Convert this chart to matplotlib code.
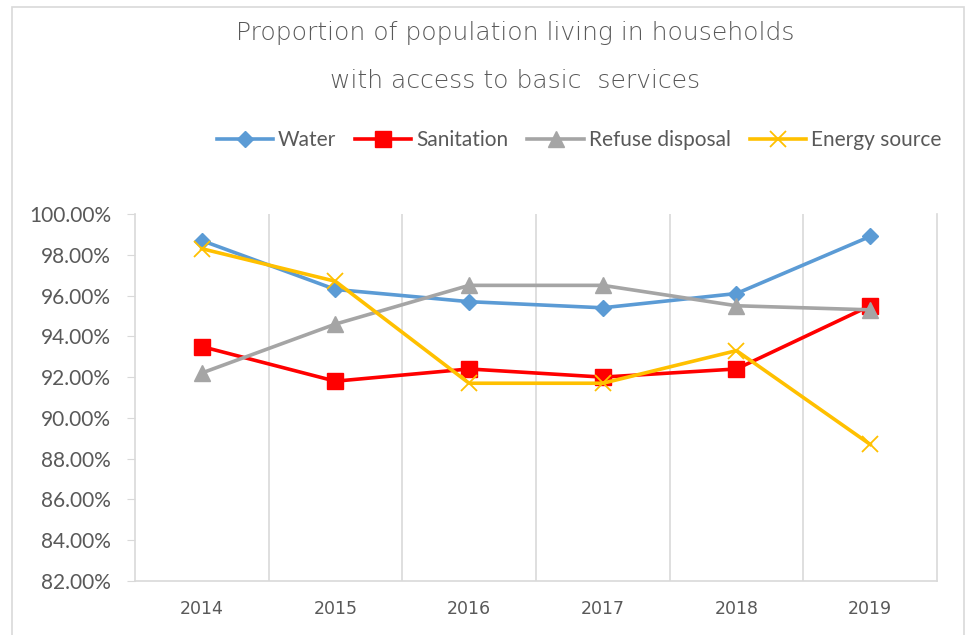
import matplotlib.pyplot as plt
from matplotlib.patches import Rectangle
from matplotlib.ticker import PercentFormatter

years = ["2014", "2015", "2016", "2017", "2018", "2019"]
water = [98.7, 96.3, 95.7, 95.4, 96.1, 98.9]
sanitation = [93.5, 91.8, 92.4, 92.0, 92.4, 95.5]
refuse = [92.2, 94.6, 96.5, 96.5, 95.5, 95.3]
energy = [98.3, 96.7, 91.7, 91.7, 93.3, 88.7]

grey = '#595959'
light = '#d9d9d9'

fig = plt.figure(figsize=(9.7, 6.35), dpi=100)
ax = fig.add_axes([0.139, 0.085, 0.827, 0.578])

x = range(len(years))
ax.plot(x, water, color='#5B9BD5', lw=2.6, marker='D', ms=8, label='Water')
ax.plot(x, sanitation, color='#FF0000', lw=2.6, marker='s', ms=11, label='Sanitation')
ax.plot(x, refuse, color='#A5A5A5', lw=2.6, marker='^', ms=11, label='Refuse disposal')
ax.plot(x, energy, color='#FFC000', lw=2.6, marker='x', ms=11, mew=1.3, label='Energy source')

ax.set_xlim(-0.5, 5.5)
ax.set_ylim(82, 100)
ax.set_yticks(range(82, 101, 2))
ax.yaxis.set_major_formatter(PercentFormatter(decimals=2))
ax.set_xticks(list(x))
ax.set_xticklabels(years, fontfamily='DejaVu Sans', fontsize=12.5)

# category separators like the excel chart
for b in [0.5, 1.5, 2.5, 3.5, 4.5]:
    ax.axvline(b, color=light, lw=1.2, zorder=0)

ax.spines['top'].set_visible(False)
for s in ['left', 'bottom', 'right']:
    ax.spines[s].set_color(light)
    ax.spines[s].set_linewidth(1.2)

ax.tick_params(axis='y', length=6, color=light, pad=11, labelsize=15, labelcolor=grey)
ax.tick_params(axis='x', length=0, pad=14, labelcolor=grey)
for lab in ax.get_yticklabels():
    lab.set_fontfamily('Lato')

fig.text(0.531, 1 - 57 / 635, "Proportion of population living in households\nwith access to basic  services",
         ha='center', va='center', fontsize=18, color=grey, linespacing=2.3,
         fontfamily='DejaVu Sans', fontweight='light')

fig.legend(loc='center', bbox_to_anchor=(0.597, 1 - 140 / 635), ncol=4, frameon=False,
           prop={'family': 'Lato', 'size': 15}, labelcolor=grey, handlelength=2.7,
           columnspacing=0.9, handletextpad=0.25)

fig.patches.append(Rectangle((0.012, -0.01), 0.982, 0.999, transform=fig.transFigure,
                             fill=False, edgecolor=light, lw=1.2))

plt.savefig("out.png", dpi=100)
